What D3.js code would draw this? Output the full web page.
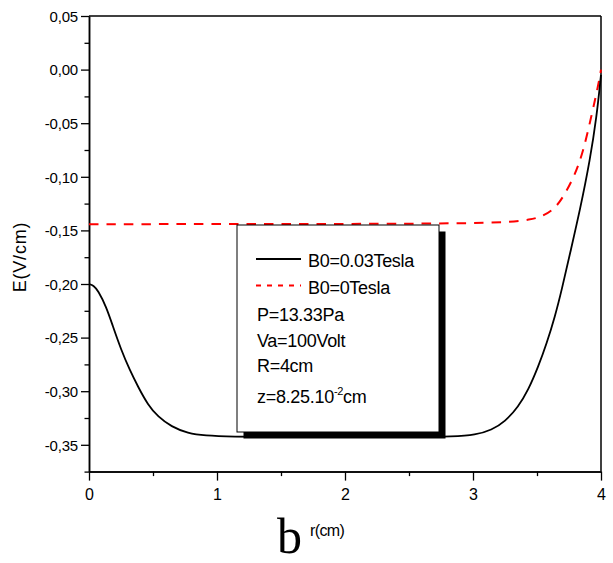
<!DOCTYPE html>
<html><head><meta charset="utf-8">
<script src="https://cdn.jsdelivr.net/npm/d3@7"></script>
<style>body{margin:0;background:#fff}svg{display:block;font-family:"Liberation Sans",Arial,sans-serif}</style>
</head><body><svg id="c" width="613" height="563"></svg>
<script>
// ---- data ----
const rBlack = [0,0.035,0.07,0.135,0.1875,0.252,0.318,0.383,0.461,0.539,0.643,0.773,0.904,1.112,1.5,2.0,2.5,2.859,3.016,3.146,3.25,3.354,3.432,3.51,3.576,3.64,3.693,3.758,3.836,3.914,3.966,4.0];
const eBlack = [-0.200,-0.2013,-0.2060,-0.2212,-0.2398,-0.2616,-0.2802,-0.2958,-0.3129,-0.3238,-0.3331,-0.3393,-0.3415,-0.3424,-0.3428,-0.3428,-0.3427,-0.3424,-0.3409,-0.3362,-0.3284,-0.3145,-0.2989,-0.2771,-0.2553,-0.2305,-0.2056,-0.1714,-0.131,-0.0843,-0.0439,-0.005];
const rRed = [0,1.0,2.0,3.0,3.3,3.445,3.53,3.63,3.705,3.797,3.862,3.927,3.979,4.0];
const eRed = [-0.1442,-0.1441,-0.1440,-0.1435,-0.142,-0.140,-0.1375,-0.131,-0.119,-0.0983,-0.0760,-0.0424,-0.0144,0.0];
const xTicks = [0,1,2,3,4];
const xTickLabels = ["0","1","2","3","4"];
const xMinor = [0.5,1.5,2.5,3.5];
const yTicks = [0.05,0.00,-0.05,-0.10,-0.15,-0.20,-0.25,-0.30,-0.35];
const yTickLabels = ["0,05","0,00","-0,05","-0,10","-0,15","-0,20","-0,25","-0,30","-0,35"];
const yMinor = [0.025,-0.025,-0.075,-0.125,-0.175,-0.225,-0.275,-0.325,-0.375];
const legendSeries = ["B0=0.03Tesla","B0=0Tesla"];
const legendNotes = ["P=13.33Pa","Va=100Volt","R=4cm"];

// ---- layout ----
const L=89,R=601,T=16,B=471.6;
const svg=d3.select("#c");
const x=d3.scaleLinear().domain([0,4]).range([L,R]);
const y=d3.scaleLinear().domain([-0.375,0.05]).range([B,T]);
const SANS="Liberation Sans, Arial, sans-serif";

// frame top/right
svg.append("line").attr("x1",L).attr("x2",R).attr("y1",T).attr("y2",T).attr("stroke","#000").attr("stroke-width",1.5);
svg.append("line").attr("x1",R).attr("x2",R).attr("y1",T).attr("y2",B).attr("stroke","#000").attr("stroke-width",1.5);

// axes
const xAx=svg.append("g").attr("transform",`translate(0,${B})`)
  .call(d3.axisBottom(x).tickValues(xTicks).tickSize(9).tickSizeOuter(0).tickFormat((d,i)=>xTickLabels[i]));
svg.append("g").attr("transform",`translate(0,${B})`)
  .call(d3.axisBottom(x).tickValues(xMinor).tickSize(4.5).tickSizeOuter(0).tickFormat(""));
const yAx=svg.append("g").attr("transform",`translate(${L},0)`)
  .call(d3.axisLeft(y).tickValues(yTicks).tickSize(8).tickSizeOuter(0).tickFormat((d,i)=>yTickLabels[i]));
svg.append("g").attr("transform",`translate(${L},0)`)
  .call(d3.axisLeft(y).tickValues(yMinor).tickSize(4.5).tickSizeOuter(0).tickFormat(""));
svg.selectAll("g").attr("font-family",null);
svg.selectAll(".domain").attr("stroke-width",1.5);
svg.selectAll(".tick line").attr("stroke-width",1.3);
xAx.selectAll("text").attr("font-size",16).attr("dy",0).attr("y",28.5).style("font-family",SANS);
yAx.selectAll("text").attr("font-size",15).attr("x",-11).attr("dy","0.35em").style("font-family",SANS).attr("letter-spacing","-0.2");

// axis labels
svg.append("text").attr("transform","translate(26,257) rotate(-90)").attr("text-anchor","middle")
  .attr("font-size",18).attr("letter-spacing","0.8").style("font-family",SANS).text("E(V/cm)");
svg.append("text").attr("x",277).attr("y",553).style("font-family","'Liberation Serif','Times New Roman',serif").attr("font-size",50).text("b");
svg.append("text").attr("x",310).attr("y",536).attr("font-size",16).attr("letter-spacing","-0.6").style("font-family",SANS).text("r(cm)");

// curves
const line=d3.line().x(d=>x(d[0])).y(d=>y(d[1])).curve(d3.curveBasis);
svg.append("path").datum(rRed.map((r,i)=>[r,eRed[i]])).attr("d",line)
  .attr("fill","none").attr("stroke","#ff0000").attr("stroke-width",2).attr("stroke-dasharray","9.5,8");
svg.append("path").datum(rBlack.map((r,i)=>[r,eBlack[i]])).attr("d",line)
  .attr("fill","none").attr("stroke","#000").attr("stroke-width",1.8);

// legend
const lx=237,ly=225,lw=202,lh=207;
svg.append("rect").attr("x",lx+6.5).attr("y",ly+6.5).attr("width",lw).attr("height",lh).attr("fill","#000");
svg.append("rect").attr("x",lx).attr("y",ly).attr("width",lw).attr("height",lh).attr("fill","#fff").attr("stroke","#000").attr("stroke-width",1);
const fs=18, ls="-0.3";
svg.append("line").attr("x1",256).attr("x2",301).attr("y1",259).attr("y2",259).attr("stroke","#000").attr("stroke-width",1.8);
svg.append("line").attr("x1",256).attr("x2",301).attr("y1",285.5).attr("y2",285.5).attr("stroke","#ff0000").attr("stroke-width",2).attr("stroke-dasharray","5,6");
const T2=(xx,yy,s)=>svg.append("text").attr("x",xx).attr("y",yy).attr("font-size",fs).attr("letter-spacing",ls).style("font-family",SANS).text(s);
T2(308,267,legendSeries[0]);
T2(308,294,legendSeries[1]);
[321,347,372].forEach((yy,i)=>T2(257,yy,legendNotes[i]));
const zt=svg.append("text").attr("x",257).attr("y",403).attr("font-size",fs).attr("letter-spacing",ls).style("font-family",SANS);
zt.append("tspan").text("z=8.25.10");
zt.append("tspan").attr("font-size",11).attr("dy",-8).text("-2");
zt.append("tspan").attr("dy",8).text("cm");
</script></body></html>
